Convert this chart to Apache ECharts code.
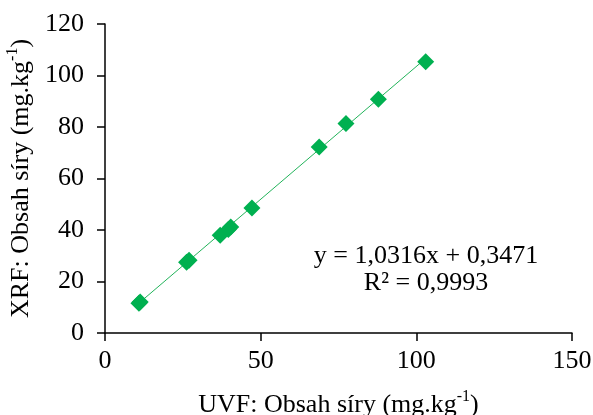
<!DOCTYPE html>
<html><head><meta charset="utf-8">
<script src="https://cdn.jsdelivr.net/npm/echarts@6/dist/echarts.min.js"></script>
<style>html,body{margin:0;padding:0;background:#fff}#c{width:593px;height:415px}</style>
</head><body><div id="c"></div>
<script>
const uvf = [10.9, 11.3, 26.2, 27.0, 37.0, 39.6, 40.4, 47.2, 68.8, 77.4, 87.8, 103.0];
const xrf = [11.6, 12.0, 27.5, 28.3, 38.0, 40.2, 41.2, 48.5, 72.2, 81.4, 90.8, 105.3];
const slope = 1.0316, intercept = 0.3471, r2 = '0,9993';
const xTicks = [0, 50, 100, 150];
const yTicks = [0, 20, 40, 60, 80, 100, 120];
const trendX = [Math.min(...uvf), Math.max(...uvf)];
const trend = trendX.map(x => [x, slope * x + intercept]);
const font = "'Liberation Serif','Times New Roman',serif";
const fs = 26;
const chart = echarts.init(document.getElementById('c'));
chart.setOption({
  animation: false,
  textStyle: {fontFamily: font},
  grid: {left: 105, top: 24, right: 21, bottom: 82, containLabel: false, outerBoundsMode: 'none'},
  xAxis: {
    type: 'value', min: xTicks[0], max: xTicks[xTicks.length - 1], interval: 50,
    name: '{a|UVF: Obsah síry (mg.kg}{s|-1}{a|)}',
    nameLocation: 'middle', nameGap: 56,
    nameTextStyle: {rich: {
      a: {fontFamily: font, fontSize: fs, color: '#000', lineHeight: 29, verticalAlign: 'bottom'},
      s: {fontFamily: font, fontSize: 16, color: '#000', lineHeight: 29, verticalAlign: 'top'}
    }},
    axisLine: {lineStyle: {color: '#000', width: 1.5}},
    axisTick: {show: true, inside: false, length: 8, lineStyle: {color: '#000', width: 1.5}},
    axisLabel: {fontFamily: font, fontSize: fs, color: '#000', margin: 15},
    splitLine: {show: false}
  },
  yAxis: {
    type: 'value', min: yTicks[0], max: yTicks[yTicks.length - 1], interval: 20,
    name: '{a|XRF: Obsah síry (mg.kg}{s|-1}{a|)}',
    nameLocation: 'middle', nameGap: 68, nameRotate: 90,
    nameTextStyle: {rich: {
      a: {fontFamily: font, fontSize: fs, color: '#000', lineHeight: 29, verticalAlign: 'bottom'},
      s: {fontFamily: font, fontSize: 16, color: '#000', lineHeight: 29, verticalAlign: 'top'}
    }},
    axisLine: {show: true, lineStyle: {color: '#000', width: 1.5}},
    axisTick: {show: true, inside: false, length: 8, lineStyle: {color: '#000', width: 1.5}},
    axisLabel: {fontFamily: font, fontSize: fs, color: '#000', margin: 21},
    splitLine: {show: false}
  },
  series: [
    {type: 'line', data: trend, symbol: 'none', lineStyle: {color: '#22B35A', width: 1}, z: 1, silent: true},
    {type: 'scatter', data: uvf.map((x, i) => [x, xrf[i]]), symbol: 'diamond', symbolSize: 17,
     itemStyle: {color: '#00B050', opacity: 1}, z: 2}
  ],
  graphic: [
    {type: 'text', x: 426, y: 256, style: {text: 'y = 1,0316x + 0,3471', font: fs + 'px ' + font, fill: '#000', textAlign: 'center', textVerticalAlign: 'middle'}},
    {type: 'text', x: 426, y: 283, style: {text: 'R² = ' + r2, font: fs + 'px ' + font, fill: '#000', textAlign: 'center', textVerticalAlign: 'middle'}}
  ]
});
</script></body></html>
